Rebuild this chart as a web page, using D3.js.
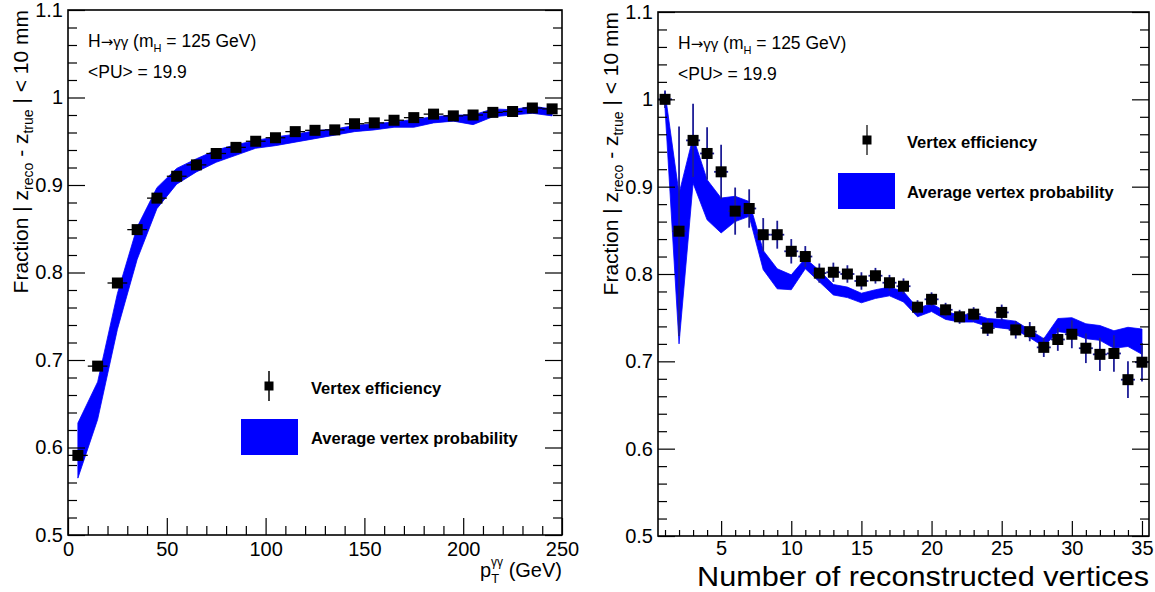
<!DOCTYPE html>
<html><head><meta charset="utf-8">
<script src="https://cdn.jsdelivr.net/npm/d3@7"></script>
<style>
body{margin:0;background:#fff;}
svg{display:block;}
text{font-family:"Liberation Sans",Arial,Helvetica,sans-serif;fill:#000;}
</style></head>
<body>
<svg id="c" width="1155" height="592"></svg>
<script>
// ---------- data ----------
const ptBins = [5,15,25,35,45,55,65,75,85,95,105,115,125,135,145,155,165,175,185,195,205,215,225,235,245];
const ptEff = [0.591,0.693,0.788,0.849,0.885,0.910,0.923,0.936,0.943,0.950,0.954,0.961,0.9625,0.963,0.970,0.971,0.974,0.977,0.981,0.979,0.980,0.983,0.984,0.988,0.987];
const ptEffErr = [0.006,0.005,0.004,0.004,0.003,0.003,0.003,0.003,0.003,0.003,0.003,0.003,0.003,0.003,0.003,0.003,0.003,0.003,0.003,0.003,0.003,0.003,0.003,0.003,0.003];
const ptProbHi = [0.628,0.675,0.776,0.852,0.897,0.919,0.930,0.940,0.946,0.951,0.955,0.958,0.962,0.964,0.968,0.970,0.972,0.975,0.978,0.980,0.980,0.987,0.986,0.990,0.987];
const ptProbLo = [0.565,0.632,0.735,0.815,0.873,0.901,0.915,0.926,0.934,0.942,0.945,0.949,0.953,0.957,0.961,0.963,0.966,0.966,0.971,0.973,0.969,0.978,0.980,0.982,0.979];

const nvBins = [1,2,3,4,5,6,7,8,9,10,11,12,13,14,15,16,17,18,19,20,21,22,23,24,25,26,27,28,29,30,31,32,33,34,35];
const nvEff = [1.000,0.849,0.953,0.938,0.917,0.872,0.875,0.845,0.845,0.826,0.820,0.801,0.802,0.800,0.792,0.798,0.790,0.786,0.762,0.771,0.759,0.751,0.754,0.738,0.756,0.736,0.734,0.716,0.725,0.731,0.715,0.708,0.709,0.679,0.699];
const nvEffErr = [0.010,0.120,0.042,0.030,0.031,0.027,0.022,0.019,0.016,0.014,0.012,0.011,0.011,0.010,0.010,0.009,0.009,0.009,0.008,0.008,0.008,0.008,0.008,0.009,0.009,0.010,0.011,0.011,0.013,0.016,0.017,0.019,0.021,0.021,0.022];
const nvProbHi = [1.008,0.892,0.957,0.908,0.887,0.889,0.883,0.827,0.806,0.799,0.818,0.804,0.788,0.785,0.778,0.782,0.785,0.780,0.761,0.766,0.757,0.753,0.754,0.749,0.748,0.746,0.736,0.726,0.749,0.750,0.743,0.741,0.735,0.739,0.737];
const nvProbLo = [0.990,0.720,0.904,0.862,0.847,0.860,0.866,0.805,0.783,0.782,0.806,0.791,0.776,0.773,0.767,0.772,0.775,0.768,0.751,0.757,0.748,0.745,0.745,0.740,0.738,0.736,0.727,0.717,0.734,0.732,0.726,0.724,0.715,0.717,0.708];

const yTicks = [0.5,0.6,0.7,0.8,0.9,1.0,1.1];
const yTickLabels = ["0.5","0.6","0.7","0.8","0.9","1","1.1"];
const yMinor = [0.52,0.54,0.56,0.58,0.62,0.64,0.66,0.68,0.72,0.74,0.76,0.78,0.82,0.84,0.86,0.88,0.92,0.94,0.96,0.98,1.02,1.04,1.06,1.08];
const ptTicks = [0,50,100,150,200,250];
const ptTickLabels = ["0","50","100","150","200","250"];
const ptMinor = [10,20,30,40,60,70,80,90,110,120,130,140,160,170,180,190,210,220,230,240];
const nvTicks = [5,10,15,20,25,30,35];
const nvTickLabels = ["5","10","15","20","25","30","35"];
const nvMinor = [1,2,3,4,6,7,8,9,11,12,13,14,16,17,18,19,21,22,23,24,26,27,28,29,31,32,33,34];

const legendLabels = ["Vertex efficiency","Average vertex probability"];

// ---------- drawing ----------
const svg = d3.select("#c");
const BLUE = "#0000ff";

function panel(o){
  const g = svg.append("g");
  const x = d3.scaleLinear().domain(o.xDomain).range([o.x0,o.x1]);
  const y = d3.scaleLinear().domain([0.5,1.1]).range([o.y1,o.y0]);

  // band
  const area = d3.area().x((d,i)=>x(o.bins[i])).y0((d,i)=>y(o.lo[i])).y1((d,i)=>y(o.hi[i]));
  g.append("path").datum(o.bins).attr("d",area).attr("fill",BLUE).attr("stroke",BLUE).attr("stroke-width",0.8);

  // error bars
  const eb = g.append("g").attr("stroke",o.errColor).attr("stroke-width",o.errWidth);
  o.bins.forEach((b,i)=>{
    eb.append("line").attr("x1",x(b-o.halfW)).attr("x2",x(b+o.halfW)).attr("y1",y(o.eff[i])).attr("y2",y(o.eff[i]));
    eb.append("line").attr("x1",x(b)).attr("x2",x(b)).attr("y1",y(o.eff[i]-o.err[i])).attr("y2",y(o.eff[i]+o.err[i]));
  });
  // markers
  const ms = o.ms;
  g.append("g").selectAll("rect").data(o.bins).join("rect")
    .attr("x",(d)=>x(d)-ms/2).attr("y",(d,i)=>y(o.eff[i])-ms/2)
    .attr("width",ms).attr("height",ms).attr("fill","#000");

  // axes
  const ax = (sel)=>{sel.select(".domain").remove(); sel.selectAll("line").attr("stroke","#000").attr("stroke-width",1.2);};
  g.append("g").attr("transform",`translate(${o.x0},0)`)
    .call(d3.axisLeft(y).tickValues(yTicks).tickFormat((d,i)=>yTickLabels[i]).tickSize(-17).tickPadding(5))
    .call(ax).selectAll("text").attr("font-size",20).style("font-family",'"Liberation Sans",Arial,sans-serif');
  g.append("g").attr("transform",`translate(${o.x0},0)`)
    .call(d3.axisLeft(y).tickValues(yMinor).tickFormat("").tickSize(-9)).call(ax);
  g.append("g").attr("transform",`translate(${o.x1},0)`)
    .call(d3.axisRight(y).tickValues(yTicks).tickFormat("").tickSize(-17)).call(ax);
  g.append("g").attr("transform",`translate(${o.x1},0)`)
    .call(d3.axisRight(y).tickValues(yMinor).tickFormat("").tickSize(-9)).call(ax);
  g.append("g").attr("transform",`translate(0,${o.y1})`)
    .call(d3.axisBottom(x).tickValues(o.xTicks).tickFormat((d,i)=>o.xTickLabels[i]).tickSize(-o.xMajLen).tickPadding(o.xPad))
    .call(ax).selectAll("text").attr("font-size",20).style("font-family",'"Liberation Sans",Arial,sans-serif');
  g.append("g").attr("transform",`translate(0,${o.y1})`)
    .call(d3.axisBottom(x).tickValues(o.xMinor).tickFormat("").tickSize(-o.xMinLen)).call(ax);

  // frame
  g.append("rect").attr("x",o.x0).attr("y",o.y0).attr("width",o.x1-o.x0).attr("height",o.y1-o.y0)
    .attr("fill","none").attr("stroke","#000").attr("stroke-width",1.6);

  // y title
  const yt = g.append("text").attr("transform",`translate(${o.yTitleX},${o.y0}) rotate(-90)`)
    .attr("text-anchor","end").attr("font-size",21);
  yt.append("tspan").text("Fraction | z");
  yt.append("tspan").attr("dy",5).attr("font-size",14).text("reco");
  yt.append("tspan").attr("dy",-5).text(" - z");
  yt.append("tspan").attr("dy",5).attr("font-size",14).text("true");
  yt.append("tspan").attr("dy",-5).text(" | < 10 mm");

  // header
  const h1 = g.append("text").attr("x",o.x0+20).attr("y",o.y0+37).attr("font-size",17.5);
  h1.append("tspan").text("H");
  h1.append("tspan").style("font-family","'DejaVu Sans'").attr("font-size",15).text("→");
  h1.append("tspan").attr("font-size",15).text("γγ");
  h1.append("tspan").text(" (m");
  h1.append("tspan").attr("dy",5).attr("font-size",11).text("H");
  h1.append("tspan").attr("dy",-5).text(" = 125 GeV)");
  g.append("text").attr("x",o.x0+20).attr("y",o.y0+68).attr("font-size",17.5).text("<PU> = 19.9");

  // legend
  const L = o.leg;
  g.append("line").attr("x1",L.mx).attr("x2",L.mx).attr("y1",L.my-15).attr("y2",L.my+15).attr("stroke",o.legErr).attr("stroke-width",1.5);
  g.append("rect").attr("x",L.mx-4.5).attr("y",L.my-4.5).attr("width",9).attr("height",9).attr("fill","#000");
  g.append("text").attr("x",L.tx).attr("y",L.my+8).attr("font-size",16.5).attr("font-weight","bold").text(legendLabels[0]);
  g.append("rect").attr("x",L.bx).attr("y",L.by).attr("width",57).attr("height",36).attr("fill",BLUE);
  g.append("text").attr("x",L.tx).attr("y",L.by+25).attr("font-size",16.5).attr("font-weight","bold").text(legendLabels[1]);
  return {g,x,y};
}

const P1 = panel({x0:68,x1:562,y0:10,y1:535,xDomain:[0,250],bins:ptBins,eff:ptEff,err:ptEffErr,lo:ptProbLo,hi:ptProbHi,
  halfW:5,ms:11,errColor:"#000",errWidth:1.3,xTicks:ptTicks,xTickLabels:ptTickLabels,xMinor:ptMinor,xMajLen:17,xMinLen:9,xPad:7,
  yTitleX:28,legErr:"#000",leg:{mx:269,my:386,tx:311,bx:241,by:419}});
const P2 = panel({x0:658,x1:1149,y0:12,y1:536,xDomain:[0.5,35.5],bins:nvBins,eff:nvEff,err:nvEffErr,lo:nvProbLo,hi:nvProbHi,
  halfW:0.5,ms:11,errColor:"#1c1c96",errWidth:1.8,xTicks:nvTicks,xTickLabels:nvTickLabels,xMinor:nvMinor,xMajLen:15,xMinLen:6,xPad:5,
  yTitleX:618,legErr:"#333",leg:{mx:867,my:140,tx:907,bx:838,by:173}});

// x titles
const xt1 = svg.append("text").attr("x",562).attr("y",577).attr("text-anchor","end").attr("font-size",20);
xt1.append("tspan").text("p");
xt1.append("tspan").attr("dy",6).attr("font-size",13).text("T");
xt1.append("tspan").attr("dy",-17).attr("dx",-8).attr("font-size",12).text("γγ");
xt1.append("tspan").attr("dy",11).text(" (GeV)");
svg.append("text").attr("x",1149).attr("y",586).attr("text-anchor","end").attr("font-size",28)
  .attr("textLength",452).attr("lengthAdjust","spacingAndGlyphs").text("Number of reconstructed vertices");
</script>
</body></html>
